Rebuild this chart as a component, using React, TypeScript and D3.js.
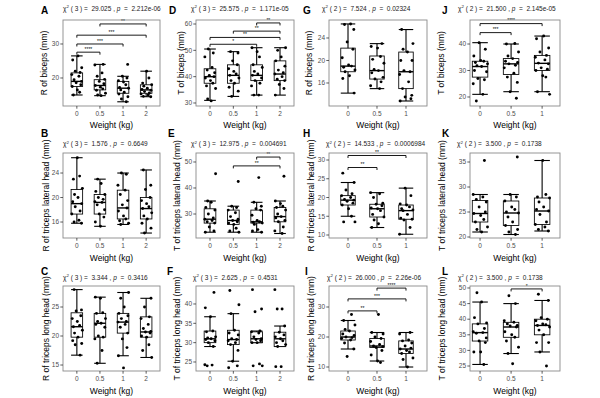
import React from "react";
import * as d3 from "d3";

const groups4 = ["0", "0.5", "1", "2"];
const groups3 = ["0", "0.5", "1"];

// stats text: [df, chi-square, p]
const statA = ["3", "29.025", "2.212e-06"];
const statD = ["3", "25.575", "1.171e-05"];
const statG = ["2", "7.524", "0.02324"];
const statJ = ["2", "21.500", "2.145e-05"];
const statB = ["3", "1.576", "0.6649"];
const statE = ["3", "12.975", "0.004691"];
const statH = ["2", "14.533", "0.0006984"];
const statK = ["2", "3.500", "0.1738"];
const statC = ["3", "3.344", "0.3416"];
const statF = ["3", "2.625", "0.4531"];
const statI = ["2", "26.000", "2.26e-06"];
const statL = ["2", "3.500", "0.1738"];

// box stats per group: [lower whisker, q1, median, q3, upper whisker]
const boxA = [[15, 17.5, 19, 21.5, 26.5], [14.8, 16.5, 17.8, 19.5, 24], [13, 15.5, 17, 19, 20.5], [14.5, 15.5, 16.5, 18, 22]];
const boxD = [[31, 37.5, 40, 43, 50.5], [32.5, 37.5, 40.5, 44.5, 49.5], [33, 38.5, 40.5, 44.5, 51], [33, 38.5, 41, 46, 51]];
const boxG = [[14.2, 18, 19, 22.2, 26.5], [15, 16.7, 18.2, 20.8, 23], [12.8, 15, 18, 21.5, 25.5]];
const boxJ = [[21, 27.5, 31.5, 33.5, 40.5], [22, 28.5, 32.5, 34.5, 40], [22, 30, 32.7, 35.7, 43]];
const boxB = [[15.8, 17.3, 19, 21.3, 26.5], [15.3, 17.3, 19.2, 20.5, 23], [15.6, 16.5, 18.3, 21.2, 24], [14.2, 16.5, 18.2, 20, 24.5]];
const boxE = [[23, 26.5, 28, 32, 35], [23, 26, 27.5, 31.5, 33], [23, 26.5, 27, 31.5, 34.5], [22.5, 27, 29, 32.5, 35]];
const boxH = [[15, 18, 19.3, 20.5, 24], [12, 14.8, 17, 18.2, 21.3], [10.2, 14.2, 16.5, 18, 22.5]];
const boxK = [[21, 23, 24.7, 27.3, 28.5], [20.5, 22.3, 24.8, 27.2, 28.5], [21.2, 22.5, 25.2, 27.8, 35.3]];
const boxC = [[16.7, 19.8, 21.6, 24, 28], [15.3, 19.8, 22.2, 23.9, 26.7], [16.6, 20.5, 22.4, 23.9, 27.5], [16.3, 19.8, 20.7, 23.3, 26.5]];
const boxF = [[29, 30, 31, 33, 36.7], [25.2, 29.5, 30.8, 33.2, 37.5], [30, 30, 31, 32.8, 33], [29, 29, 31, 32.7, 34.3]];
const boxI = [[16, 19, 20, 22, 25.5], [12, 16.5, 17, 19.5, 21.5], [10, 14.5, 16, 18.7, 21.5]];
const boxL = [[25.5, 33, 35.7, 38.5, 45.5], [29, 34.2, 37.5, 39, 45], [29.5, 35, 38, 40, 46]];

// individual observations per group
const ptsA = [
  [26.5, 25.3, 23, 22, 21.6, 21, 20.5, 19.5, 19, 18.6, 18, 17.5, 16.5, 15.8, 15],
  [24, 23.8, 21.5, 20.5, 19.6, 19, 18.3, 17.8, 17.3, 16.8, 16.4, 15.5, 15, 14.8],
  [24, 20.5, 20, 19.2, 18.8, 18, 17.2, 17, 16.5, 15.8, 15.3, 14.5, 13.8, 13],
  [22, 20, 18.5, 18, 17.6, 17, 16.6, 16.4, 16, 15.6, 15.3, 15, 14.6, 14.5],
];
const ptsD = [
  [50.5, 49, 47.5, 43.5, 42.5, 41.5, 40.5, 40, 39.5, 38.5, 37.5, 36.5, 35.5, 31.5, 30.8],
  [49.5, 49, 46, 44.5, 43, 42, 41, 40.5, 39.5, 38.5, 37.5, 36, 34.5, 32.5],
  [51, 49.5, 47.5, 44.5, 43.5, 42, 41, 40.5, 39.5, 38.5, 37.5, 36.5, 33, 33],
  [51, 50, 47.5, 46, 44, 42.5, 41.5, 41, 40, 39, 38.5, 37, 35.5, 33],
];
const ptsG = [
  [26.5, 26.4, 25.5, 23.3, 22, 20.5, 19.2, 19, 18.8, 18.3, 18, 17.3, 16.8, 14.2],
  [23, 22.5, 22.2, 20.7, 20.2, 19.5, 18.4, 18.2, 17.8, 17, 16.7, 16.2, 15.5, 15],
  [25.5, 23, 22, 21.5, 20, 20, 18.2, 18, 17.5, 16.2, 15, 13.8, 13.5, 13.2, 12.8],
];
const ptsJ = [
  [40.5, 38, 35.5, 33.8, 33.5, 33, 32.5, 31.8, 31.5, 30, 29.5, 27, 26.5, 25, 21, 18.5],
  [40.2, 40, 37, 35.5, 34.5, 33.5, 33, 32.5, 32, 31, 29, 27.5, 25.5, 22, 19.5],
  [43, 42, 38.5, 37, 35.7, 35, 34, 32.8, 32.5, 31, 30.5, 30, 28, 27.5, 22, 21],
];
const ptsB = [
  [26.5, 23.5, 23, 21.5, 20.5, 20, 19.3, 19, 18.5, 17.8, 17.3, 16.3, 16, 15.8],
  [23, 22.3, 21, 20.5, 20, 19.7, 19.3, 19.2, 18.8, 18, 17.3, 16.8, 16, 15.3],
  [24, 23.8, 22, 21.2, 20.5, 19.5, 18.8, 18.3, 17.8, 17, 16.5, 16.2, 15.8, 15.6],
  [24.5, 22, 21.3, 20, 19.5, 19, 18.5, 18.2, 17.5, 17, 16.5, 15.8, 15, 14.2],
];
const ptsE = [
  [45.5, 35, 34.5, 32.5, 31.5, 30, 28.5, 28, 27.5, 27, 26.5, 25, 23.5, 23],
  [42.5, 33, 32.5, 31.5, 30.5, 29, 28, 27.5, 27, 26.5, 26, 24.5, 23.5, 23],
  [44, 34.5, 33, 32, 31.5, 29.5, 27.5, 27, 26.8, 26.5, 26, 24, 23.5, 23],
  [44.5, 35, 34, 33, 32.5, 31.5, 30, 29, 28.5, 27.5, 27, 25, 23.5, 22.5],
];
const ptsH = [
  [26.5, 24, 22, 21, 20.5, 20, 19.5, 19.3, 19, 18.5, 18, 17, 15, 13.5, 13.5],
  [21.3, 21, 20, 18.5, 18.2, 17.8, 17.2, 17, 16.5, 15.5, 14.8, 14, 13, 12],
  [22.5, 20.5, 18.3, 18, 17.5, 17, 16.7, 16.5, 15.5, 14.5, 14.2, 14, 12, 10.2],
];
const ptsK = [
  [35.3, 28.5, 28, 27.5, 27, 26, 25, 24.7, 24.3, 23.5, 23, 22, 21.5, 21],
  [36, 28.5, 28, 27.2, 26, 25.5, 25, 24.8, 24, 23, 22.3, 21.5, 21, 20.5],
  [35.3, 28.5, 28, 27.8, 27, 26, 25.5, 25.2, 24.5, 23, 22.5, 22, 21.5, 21.2],
];
const ptsC = [
  [28, 24.5, 24.3, 23.5, 23, 22.5, 21.8, 21.6, 21, 20.5, 19.8, 19.2, 18.7, 18.5, 16.7],
  [26.7, 26.5, 24, 23.9, 23, 22.5, 22.2, 22, 21.5, 20, 19.8, 19.5, 17.5, 15.3],
  [27.5, 26.5, 25, 23.9, 23.5, 23, 22.5, 22.4, 22, 21.5, 20.5, 19.5, 18, 16.6, 14.5],
  [26.5, 25, 23.3, 23, 22, 21.3, 20.8, 20.7, 20.5, 20, 19.8, 18.5, 17.5, 16.3],
];
const ptsF = [
  [43, 39, 36.7, 33, 32.8, 31.5, 31.2, 31, 30.8, 30.5, 30, 29, 24.3, 24.2, 24],
  [43.5, 39.8, 37.5, 33.2, 32.5, 32, 31, 30.8, 30.5, 30, 29.5, 28, 25.2, 24, 23.5],
  [43.7, 38.7, 38, 33, 32.8, 32.5, 31.5, 31, 30.8, 30.5, 30, 30, 24.5, 24, 24],
  [43.7, 38.7, 38.7, 34.3, 32.7, 32, 31.5, 31, 30.5, 30, 29.5, 29, 23.8, 23.8],
];
const ptsI = [
  [27.5, 25.5, 24, 22.5, 22, 21, 20.5, 20, 19.8, 19.5, 19, 18, 16, 13.5],
  [27.5, 21.5, 21, 20, 19.5, 18.5, 17.5, 17, 16.8, 16.5, 15.5, 14, 12, 11.5],
  [21.5, 21, 19, 18.7, 18, 17, 16.3, 16, 15.5, 15, 14.5, 13, 12.5, 10],
];
const ptsL = [
  [48.5, 45.5, 40.5, 38.8, 38.5, 37, 36, 35.7, 35.5, 34, 33, 32.5, 29.5, 29.5, 25.5],
  [47.5, 45, 39.5, 39, 38.5, 38, 37.8, 37.5, 36, 35, 34.2, 33, 31, 29, 25.7],
  [48, 46, 40.5, 40, 39.5, 38.5, 38.2, 38, 37.5, 36.5, 35, 32.5, 32.5, 29.5, 25],
];

// significance brackets: [from, to, label, y value]
const brkA = [["0.5", "2", "**", 35.9], ["0", "2", "***", 32.6], ["0", "1", "***", 30], ["0", "0.5", "****", 27.6]];
const brkD = [["1", "2", "**", 60.4], ["0.5", "2", "**", 57.3], ["0", "2", "**", 54.9], ["0", "1", "*", 52.3]];
const brkJ = [["0", "1", "****", 47.7], ["0", "0.5", "***", 44.3]];
const brkE = [["1", "2", "**", 51.9], ["0.5", "2", "**", 48.5]];
const brkH = [["0", "1", "**", 31.2], ["0", "0.5", "**", 28]];
const brkI = [["0.5", "1", "****", 36.3], ["0", "1", "***", 32.7], ["0", "0.5", "**", 28.7]];
const brkL = [["0.5", "1", "*", 49.7]];

// jitter offsets (fraction of category step)
const jitter = [0.05, -0.18, 0.21, -0.07, 0.14, -0.22, 0.09, -0.12, 0.2, -0.03, 0.17, -0.2, 0.02, 0.12, -0.15, 0.24, -0.1];

const font = "'Liberation Sans', Arial, sans-serif";

const cols = [
  { x0: 63, x1: 160, pad: 0.6, align: 0.5 },
  { x0: 196, x1: 294, pad: 0.6, align: 0.5 },
  { x0: 329, x1: 427, pad: 0.69, align: 0.475 },
  { x0: 470, x1: 560, pad: 0.45, align: 0.36 },
];
const rows = [
  { y0: 20, y1: 106, tagY: 14, titleY: 10.5, tickY: 115.5, labY: 128 },
  { y0: 153, y1: 238, tagY: 137, titleY: 146, tickY: 247.5, labY: 260.5 },
  { y0: 286, y1: 371, tagY: 275, titleY: 279.5, tickY: 380.5, labY: 393.5 },
];

const panels = [
  { tag: "A", r: 0, c: 0, stat: statA, ylab: "R of biceps (mm)", groups: groups4, box: boxA, pts: ptsA, brk: brkA, domain: [11.76, 37.06], ticks: [20, 30], tagX: 41, titleX: 63, ylabX: 44 },
  { tag: "D", r: 0, c: 1, stat: statD, ylab: "T of biceps (mm)", groups: groups4, box: boxD, pts: ptsD, brk: brkD, domain: [28.86, 61.52], ticks: [30, 40, 50, 60], tagX: 169, titleX: 191, ylabX: 181 },
  { tag: "G", r: 0, c: 2, stat: statG, ylab: "R of biceps (mm)", groups: groups3, box: boxG, pts: ptsG, brk: [], domain: [11.91, 27.2], ticks: [16, 20, 24], tagX: 303, titleX: 322, ylabX: 309 },
  { tag: "J", r: 0, c: 3, stat: statJ, ylab: "T of biceps (mm)", groups: groups3, box: boxJ, pts: ptsJ, brk: brkJ, domain: [16.6, 49.06], ticks: [20, 30, 40], tagX: 442, titleX: 458, ylabX: 441 },
  { tag: "B", r: 1, c: 0, stat: statB, ylab: "R of triceps lateral head (mm)", groups: groups4, box: boxB, pts: ptsB, brk: [], domain: [13.39, 27.27], ticks: [16, 20, 24], tagX: 41, titleX: 63, ylabX: 46 },
  { tag: "E", r: 1, c: 1, stat: statE, ylab: "T of triceps lateral head (mm)", groups: groups4, box: boxE, pts: ptsE, brk: brkE, domain: [20.77, 53.46], ticks: [30, 40, 50], tagX: 168, titleX: 191, ylabX: 177 },
  { tag: "H", r: 1, c: 2, stat: statH, ylab: "R of triceps lateral head (mm)", groups: groups3, box: boxH, pts: ptsH, brk: brkH, domain: [9.2, 31.87], ticks: [10, 15, 20, 25, 30], tagX: 303, titleX: 326, ylabX: 311 },
  { tag: "K", r: 1, c: 3, stat: statK, ylab: "T of triceps lateral head (mm)", groups: groups3, box: boxK, pts: ptsK, brk: [], domain: [19.8, 36.8], ticks: [20, 25, 30, 35], tagX: 442, titleX: 457, ylabX: 442 },
  { tag: "C", r: 2, c: 0, stat: statC, ylab: "R of triceps long head (mm)", groups: groups4, box: boxC, pts: ptsC, brk: [], domain: [13.97, 28.62], ticks: [15, 20, 25], tagX: 41, titleX: 63, ylabX: 46 },
  { tag: "F", r: 2, c: 1, stat: statF, ylab: "T of triceps long head (mm)", groups: groups4, box: boxF, pts: ptsF, brk: [], domain: [22.67, 44.65], ticks: [25, 30, 35, 40], tagX: 167, titleX: 193, ylabX: 177 },
  { tag: "I", r: 2, c: 2, stat: statI, ylab: "R of triceps long head (mm)", groups: groups3, box: boxI, pts: ptsI, brk: brkI, domain: [8.67, 37], ticks: [10, 20, 30], tagX: 305, titleX: 327, ylabX: 311 },
  { tag: "L", r: 2, c: 3, stat: statL, ylab: "T of triceps long head (mm)", groups: groups3, box: boxL, pts: ptsL, brk: brkL, domain: [23.4, 50.64], ticks: [25, 30, 35, 40, 45, 50], tagX: 442, titleX: 458, ylabX: 442 },
];

function Panel({ p, pi }: { p: any; pi: number }) {
  const col = cols[p.c];
  const row = rows[p.r];
  const x = d3.scalePoint<string>().domain(p.groups).range([col.x0, col.x1]).padding(col.pad).align(col.align);
  const y = d3.scaleLinear().domain(p.domain).range([row.y1, row.y0]);
  const step = x.step();
  const bw = step * 0.5;
  const midX = (col.x0 + col.x1) / 2;
  const midY = (row.y0 + row.y1) / 2;

  return (
    <g>
      <text x={p.tagX} y={row.tagY} fontSize={10} fontWeight="bold" fontFamily={font}>{p.tag}</text>
      <text x={p.titleX} y={row.titleY} fontSize={6.5} fontFamily={font} fill="#222" style={{ whiteSpace: "pre" }}>
        <tspan>χ</tspan>
        <tspan fontSize={4.4} dy={-2.3}>2</tspan>
        <tspan dy={2.3}>{` ( ${p.stat[0]} ) =  ${p.stat[1]} , `}</tspan>
        <tspan fontStyle="italic">p</tspan>
        <tspan>{`  =  ${p.stat[2]}`}</tspan>
      </text>
      <rect x={col.x0} y={row.y0} width={col.x1 - col.x0} height={row.y1 - row.y0} fill="#fff" />
      {p.box.map((b: number[], gi: number) => {
        const cx = x(p.groups[gi])!;
        return (
          <g key={"b" + gi} stroke="#000" fill="none">
            <line x1={cx} x2={cx} y1={y(b[0])} y2={y(b[4])} strokeWidth={1.1} />
            <line x1={cx - bw / 2} x2={cx + bw / 2} y1={y(b[0])} y2={y(b[0])} strokeWidth={1.1} />
            <line x1={cx - bw / 2} x2={cx + bw / 2} y1={y(b[4])} y2={y(b[4])} strokeWidth={1.1} />
            <rect x={cx - bw / 2} y={y(b[3])} width={bw} height={y(b[1]) - y(b[3])} fill="#fff" strokeWidth={0.85} />
            <line x1={cx - bw / 2} x2={cx + bw / 2} y1={y(b[2])} y2={y(b[2])} strokeWidth={1.4} />
          </g>
        );
      })}
      {p.pts.map((vals: number[], gi: number) =>
        vals.map((v, i) => (
          <circle
            key={"p" + gi + "-" + i}
            cx={x(p.groups[gi])! + jitter[(i + gi * 4 + pi * 3) % jitter.length] * step}
            cy={y(v)}
            r={1.45}
            fill="#000"
          />
        ))
      )}
      {p.brk.map((b: any[], bi: number) => {
        const xa = x(b[0])!;
        const xb = x(b[1])!;
        const yy = y(b[3]);
        return (
          <g key={"k" + bi}>
            <path d={`M${xa},${yy + 2.5}V${yy}H${xb}V${yy + 2.5}`} fill="none" stroke="#000" strokeWidth={0.9} />
            <text x={(xa + xb) / 2} y={yy - 1.2} fontSize={5} textAnchor="middle" fontFamily={font} fill="#000">{b[2]}</text>
          </g>
        );
      })}
      <rect x={col.x0} y={row.y0} width={col.x1 - col.x0} height={row.y1 - row.y0} fill="none" stroke="#8a8a8a" strokeWidth={0.9} />
      {p.ticks.map((t: number) => (
        <g key={"yt" + t}>
          <line x1={col.x0 - 2.7} x2={col.x0} y1={y(t)} y2={y(t)} stroke="#333" strokeWidth={0.8} />
          <text x={col.x0 - 4} y={y(t)} dy="0.35em" fontSize={6.5} textAnchor="end" fill="#4d4d4d" fontFamily={font}>{t}</text>
        </g>
      ))}
      {p.groups.map((g: string) => (
        <g key={"xt" + g}>
          <line x1={x(g)} x2={x(g)} y1={row.y1} y2={row.y1 + 2.7} stroke="#333" strokeWidth={0.8} />
          <text x={x(g)} y={row.tickY} fontSize={6.5} textAnchor="middle" fill="#4d4d4d" fontFamily={font}>{g}</text>
        </g>
      ))}
      <text x={midX} y={row.labY} fontSize={8.5} textAnchor="middle" fontFamily={font} fill="#000">Weight (kg)</text>
      <text transform={`translate(${p.ylabX},${midY}) rotate(-90)`} dy="0.35em" fontSize={8.5} textAnchor="middle" fontFamily={font} fill="#000">{p.ylab}</text>
    </g>
  );
}

export default function App() {
  return (
    <svg width={600} height={398} style={{ position: "absolute", left: 0, top: 0, background: "#fff" }}>
      <rect width={600} height={398} fill="#fff" />
      {panels.map((p, i) => (
        <Panel key={p.tag} p={p} pi={i} />
      ))}
    </svg>
  );
}
